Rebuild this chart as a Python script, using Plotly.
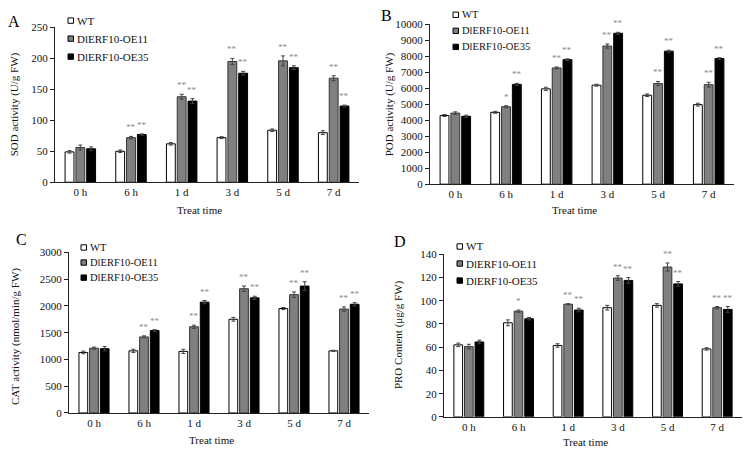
import plotly.graph_objects as go

times = ["0 h", "6 h", "1 d", "3 d", "5 d", "7 d"]
series = ["WT", "DlERF10-OE11", "DlERF10-OE35"]

# Panel A: SOD activity (U/g FW)
sod_wt = [49, 50, 62, 72, 84, 80]
sod_oe11 = [56, 72, 138, 195, 196, 168]
sod_oe35 = [54, 77, 131, 176, 185, 123]
sod_wt_err = [2, 2, 2, 1.5, 2, 3]
sod_oe11_err = [4, 2, 4, 5, 8, 4]
sod_oe35_err = [3, 1, 4, 3, 3, 1.5]
sod_sig11 = ["", "**", "**", "**", "**", "**"]
sod_sig35 = ["", "**", "**", "**", "**", "**"]

# Panel B: POD activity (U/g FW)
pod_wt = [4300, 4500, 5970, 6200, 5570, 4980]
pod_oe11 = [4450, 4850, 7280, 8650, 6300, 6230]
pod_oe35 = [4250, 6250, 7800, 9450, 8330, 7870]
pod_wt_err = [60, 60, 100, 60, 80, 90]
pod_oe11_err = [80, 60, 60, 130, 130, 150]
pod_oe35_err = [70, 60, 50, 60, 60, 50]
pod_sig11 = ["", "*", "**", "**", "**", "**"]
pod_sig35 = ["", "**", "**", "**", "**", "**"]

# Panel C: CAT activity (nmol/min/g FW)
cat_wt = [1130, 1160, 1150, 1750, 1950, 1160]
cat_oe11 = [1210, 1420, 1610, 2320, 2210, 1940]
cat_oe35 = [1200, 1540, 2070, 2150, 2370, 2030]
cat_wt_err = [25, 30, 40, 35, 20, 10]
cat_oe11_err = [20, 20, 30, 50, 50, 40]
cat_oe35_err = [40, 15, 30, 30, 80, 30]
cat_sig11 = ["", "**", "**", "**", "**", "**"]
cat_sig35 = ["", "**", "**", "**", "**", "**"]

# Panel D: PRO content (ug/g FW)
pro_wt = [62, 81, 61.5, 94, 96, 58.5]
pro_oe11 = [60.5, 91, 97, 119.5, 129, 94]
pro_oe35 = [64.5, 84.5, 92, 117.5, 114.5, 92.5]
pro_wt_err = [1.5, 2.5, 1.5, 2, 1.5, 1]
pro_oe11_err = [2, 1, 0.5, 2, 3.5, 1]
pro_oe35_err = [1.5, 1, 1.5, 2.5, 2, 2.5]
pro_sig11 = ["", "*", "**", "**", "**", "**"]
pro_sig35 = ["", "", "**", "**", "**", "**"]

y_titles = ["SOD activity (U/g FW)", "POD activity (U/g FW)",
            "CAT activity (nmol/min/g FW)", "PRO Content (\u03bcg/g FW)"]
panel_letters = ["A", "B", "C", "D"]
y_ranges = [(0, 250, 50), (0, 10000, 1000), (0, 3000, 500), (0, 140, 20)]

FONT = "Liberation Serif, Times New Roman, serif"
fills = ["#ffffff", "#808080", "#000000"]
lines = ["#000000", "#333333", "#000000"]
BARGAP = 0.36
BARGROUPGAP = 0.18

panels = [
    ([sod_wt, sod_oe11, sod_oe35], [sod_wt_err, sod_oe11_err, sod_oe35_err], [sod_sig11, sod_sig35]),
    ([pod_wt, pod_oe11, pod_oe35], [pod_wt_err, pod_oe11_err, pod_oe35_err], [pod_sig11, pod_sig35]),
    ([cat_wt, cat_oe11, cat_oe35], [cat_wt_err, cat_oe11_err, cat_oe35_err], [cat_sig11, cat_sig35]),
    ([pro_wt, pro_oe11, pro_oe35], [pro_wt_err, pro_oe11_err, pro_oe35_err], [pro_sig11, pro_sig35]),
]

W, H = 749, 455
# pixel layout of each panel: x0, x1 (axis span), y_bottom, y_top (pixels from top)
boxes = [(55, 359, 181, 22), (430, 734, 183, 19), (69, 369, 418, 253), (444, 742, 422, 255)]
letter_pos = [(14, 16), (386, 10), (21, 240), (400, 242)]
ytitle_pos = [(14, 101), (389, 101), (15, 340), (398, 338)]
xtitle_y = [210, 210, 446, 448]
# custom legend: box left x, first row y, row spacing, font size
legend_geo = [(68, 15, 18.5, 11), (453, 9, 16.5, 10.5), (81, 248, 15.5, 10.5), (457, 247, 17.5, 11)]

fig = go.Figure()
layout = dict(
    width=W, height=H, margin=dict(l=0, r=0, t=0, b=0),
    paper_bgcolor="white", plot_bgcolor="white",
    barmode="group", bargap=BARGAP, bargroupgap=BARGROUPGAP,
    font=dict(family=FONT, size=11, color="#000000"),
    annotations=[], shapes=[], showlegend=False,
)

slot = (1 - BARGAP) / 3

for p, (vals, errs, sigs) in enumerate(panels):
    sfx = "" if p == 0 else str(p + 1)
    xa, ya = "x" + sfx, "y" + sfx
    for k in range(3):
        fig.add_trace(go.Bar(
            x=times, y=vals[k], name=series[k],
            xaxis=xa, yaxis=ya, showlegend=False,
            marker=dict(color=fills[k], line=dict(color=lines[k], width=1)),
            error_y=dict(type="data", array=errs[k], color="#444444", thickness=1, width=2),
        ))
    x0, x1, yb, yt = boxes[p]
    ymin, ymax, dt = y_ranges[p]
    layout["xaxis" + sfx] = dict(
        domain=[x0 / W, x1 / W], anchor=ya, type="category", range=[-0.5, 5.5],
        showline=True, linecolor="#222222", linewidth=1, ticks="",
        tickfont=dict(family=FONT, size=11, color="#111111"), showgrid=False, zeroline=False,
    )
    layout["yaxis" + sfx] = dict(
        domain=[(H - yb) / H, (H - yt) / H], anchor=xa, range=[ymin, ymax], dtick=dt,
        tickformat="d",
        showline=True, linecolor="#222222", linewidth=1, ticks="outside", ticklen=4,
        tickcolor="#222222", tickfont=dict(family=FONT, size=11, color="#111111"),
        showgrid=False, zeroline=False,
    )
    # significance marks
    for k in (1, 2):
        for i, t in enumerate(times):
            s = sigs[k - 1][i]
            if s:
                layout["annotations"].append(dict(
                    x=i + (k - 1) * slot, y=vals[k][i] + errs[k][i], xref=xa, yref=ya,
                    text=s, showarrow=False, yanchor="bottom", yshift=2,
                    font=dict(family=FONT, size=9, color="#888888"),
                ))
    # legend (drawn as boxes + labels, like the original)
    lx, ly, lsp, lfs = legend_geo[p]
    for k in range(3):
        cy = ly + k * lsp
        layout["shapes"].append(dict(
            type="rect", xref="paper", yref="paper",
            x0=lx / W, x1=(lx + 5.5) / W, y0=(H - cy - 2.75) / H, y1=(H - cy + 2.75) / H,
            fillcolor=fills[k], line=dict(color="#000000", width=1),
        ))
        layout["annotations"].append(dict(
            x=(lx + 7) / W, y=(H - cy) / H, xref="paper", yref="paper",
            text=series[k], showarrow=False, xanchor="left", yanchor="middle",
            font=dict(family=FONT, size=lfs, color="#111111"),
        ))
    # titles
    layout["annotations"].append(dict(
        x=ytitle_pos[p][0] / W, y=(H - ytitle_pos[p][1]) / H, xref="paper", yref="paper",
        text=y_titles[p], textangle=-90, showarrow=False, xanchor="center", yanchor="middle",
        font=dict(family=FONT, size=11, color="#111111"),
    ))
    layout["annotations"].append(dict(
        x=((x0 + x1) / 2 - 8) / W, y=(H - xtitle_y[p]) / H, xref="paper", yref="paper",
        text="Treat time", showarrow=False, xanchor="center", yanchor="middle",
        font=dict(family=FONT, size=11, color="#111111"),
    ))
    layout["annotations"].append(dict(
        x=letter_pos[p][0] / W, y=(H - letter_pos[p][1]) / H, xref="paper", yref="paper",
        text=panel_letters[p], showarrow=False, xanchor="center", yanchor="middle",
        font=dict(family=FONT, size=16, color="#000000"),
    ))

fig.update_layout(**layout)
fig.write_html("out.html")
